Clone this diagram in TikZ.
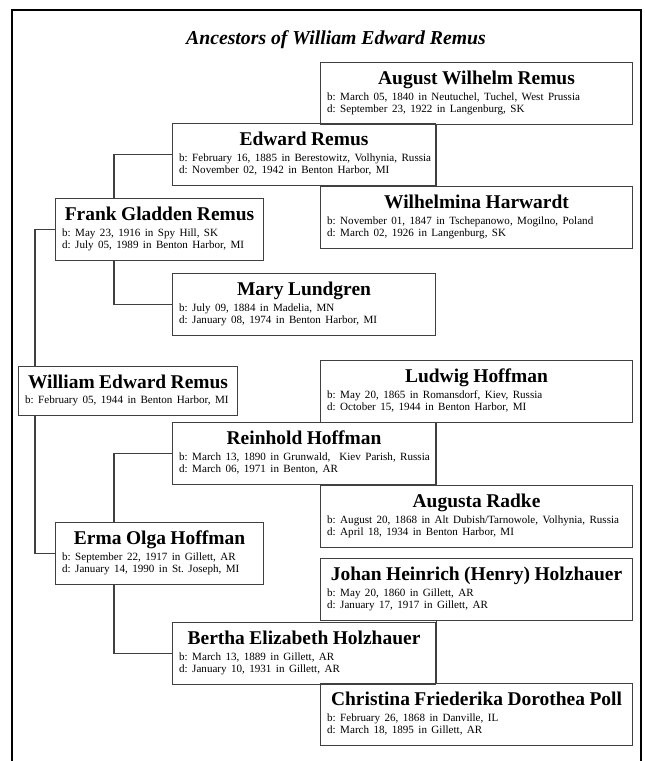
\documentclass[tikz,border=0pt]{standalone}
\usepackage{fontspec}
\setmainfont{Liberation Serif}
\usepackage{tikz}
\usetikzlibrary{calc}

\newcommand{\namefont}{\fontsize{14.6}{17}\selectfont\bfseries}
\newcommand{\datefont}{\fontsize{8.3}{9}\selectfont}
\newcommand{\person}[2]{\frenchspacing
  {\namefont #1\par}\vspace{2.5pt}%
  \raggedright\datefont\begin{tabular}[t]{@{}l@{}}#2\end{tabular}%
  \lineskiplimit=-\maxdimen\par}

\begin{document}
\begin{tikzpicture}[x=0.75pt,y=-0.75pt]
  \tikzstyle{box}=[draw=black!75, line width=0.8pt, anchor=north west,
    inner xsep=5pt, inner ysep=0pt, align=center, minimum height=46.5pt]
  \tikzstyle{far}=[box, text width=224pt]
  \tikzstyle{mid}=[box, text width=187.25pt]
  \tikzstyle{near}=[box, text width=146pt]
  \tikzstyle{link}=[draw=black!75, line width=0.8pt]

  \useasboundingbox (0,0) rectangle (644,761);
  \draw [line width=2pt] (12,761) -- (12,10) -- (641,10) -- (641,761);

  \node [font=\fontsize{14.8}{17}\selectfont\bfseries\itshape] (title) at (336,40)
    {Ancestors of William Edward Remus};

  % great-grandparents
  \node [far] (august) at (320,62) {\person{August Wilhelm Remus}{
    b: March 05, 1840 in Neutuchel, Tuchel, West Prussia\\
    d: September 23, 1922 in Langenburg, SK}};
  \node [far] (wilhelmina) at (320,186) {\person{Wilhelmina Harwardt}{
    b: November 01, 1847 in Tschepanowo, Mogilno, Poland\\
    d: March 02, 1926 in Langenburg, SK}};
  \node [far] (ludwig) at (320,360) {\person{Ludwig Hoffman}{
    b: May 20, 1865 in Romansdorf, Kiev, Russia\\
    d: October 15, 1944 in Benton Harbor, MI}};
  \node [far] (augusta) at (320,485) {\person{Augusta Radke}{
    b: August 20, 1868 in Alt Dubish/Tarnowole, Volhynia, Russia\\
    d: April 18, 1934 in Benton Harbor, MI}};
  \node [far] (johan) at (320,558) {\person{Johan Heinrich (Henry) Holzhauer}{
    b: May 20, 1860 in Gillett, AR\\
    d: January 17, 1917 in Gillett, AR}};
  \node [far] (christina) at (320,683) {\person{Christina Friederika Dorothea Poll}{
    b: February 26, 1868 in Danville, IL\\
    d: March 18, 1895 in Gillett, AR}};

  % grandparents
  \node [mid] (edward) at (172,123) {\person{Edward Remus}{
    b: February 16, 1885 in Berestowitz, Volhynia, Russia\\
    d: November 02, 1942 in Benton Harbor, MI}};
  \node [mid] (mary) at (172,273) {\person{Mary Lundgren}{
    b: July 09, 1884 in Madelia, MN\\
    d: January 08, 1974 in Benton Harbor, MI}};
  \node [mid] (reinhold) at (172,422) {\person{Reinhold Hoffman}{
    b: March 13, 1890 in Grunwald, \ Kiev Parish, Russia\\
    d: March 06, 1971 in Benton, AR}};
  \node [mid] (bertha) at (172,622) {\person{Bertha Elizabeth Holzhauer}{
    b: March 13, 1889 in Gillett, AR\\
    d: January 10, 1931 in Gillett, AR}};

  % parents
  \node [near] (frank) at (55,198) {\person{Frank Gladden Remus}{
    b: May 23, 1916 in Spy Hill, SK\\
    d: July 05, 1989 in Benton Harbor, MI}};
  \node [near] (erma) at (55,522) {\person{Erma Olga Hoffman}{
    b: September 22, 1917 in Gillett, AR\\
    d: January 14, 1990 in St. Joseph, MI}};

  \node [box, text width=154.25pt, minimum height=37pt] (william) at (18,366)
    {\person{William Edward Remus}{b: February 05, 1944 in Benton Harbor, MI}};

  % connectors
  \coordinate (trunkA) at (35,0);
  \coordinate (trunkB) at (114,0);
  \draw [link] (frank.west) -| (trunkA |- william.north);
  \draw [link] (erma.west) -| (trunkA |- william.south);
  \draw [link] (edward.west) -| (trunkB |- frank.north);
  \draw [link] (mary.west) -| (trunkB |- frank.south);
  \draw [link] (reinhold.west) -| (trunkB |- erma.north);
  \draw [link] (bertha.west) -| (trunkB |- erma.south);
  \draw [link] (edward.east |- august.south) -- (edward.east |- wilhelmina.north);
  \draw [link] (reinhold.east |- ludwig.south) -- (reinhold.east |- augusta.north);
  \draw [link] (bertha.east |- johan.south) -- (bertha.east |- christina.north);
\end{tikzpicture}
\end{document}
